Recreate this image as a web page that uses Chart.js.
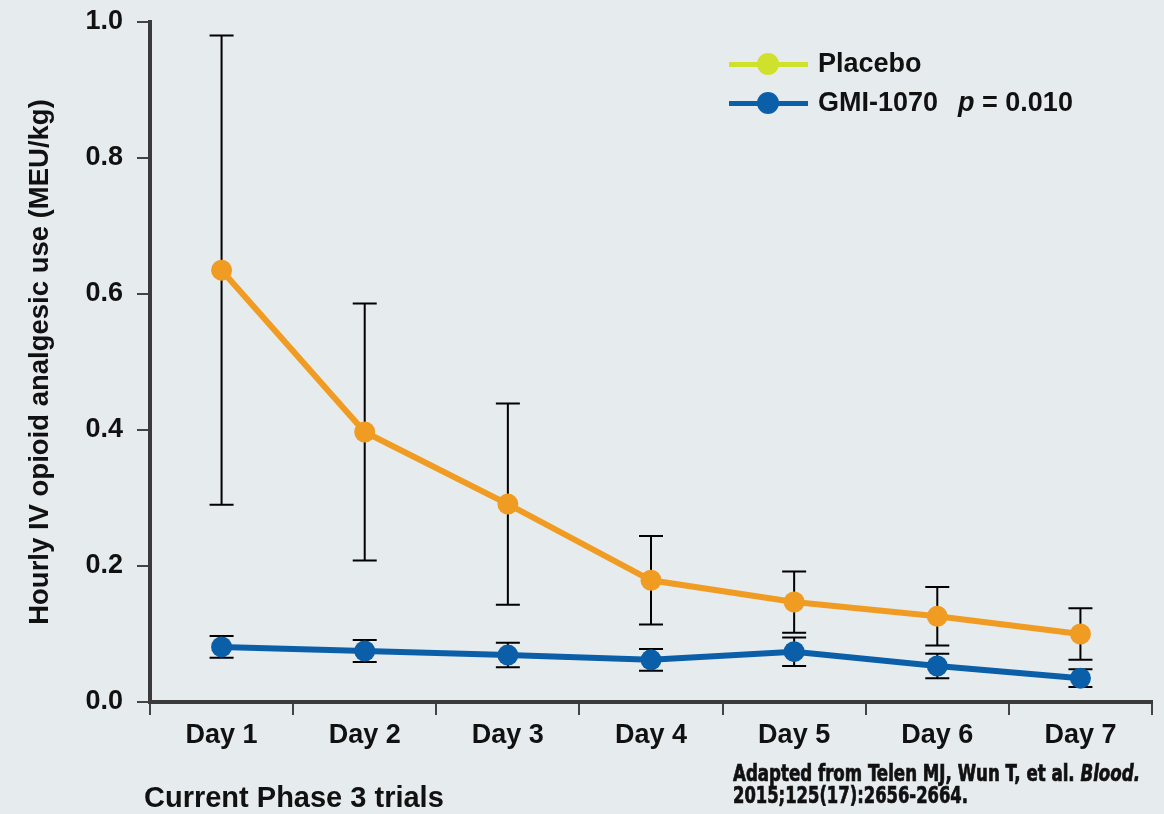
<!DOCTYPE html>
<html>
<head>
<meta charset="utf-8">
<script src="https://cdn.jsdelivr.net/npm/chart.js@4.4.1/dist/chart.umd.min.js"></script>
<style>
  html, body { margin: 0; padding: 0; background: #e6ebee; }
  #wrap { position: relative; width: 1164px; height: 814px; background: #e6ebee; overflow: hidden; }
  #chart { position: absolute; left: 0; top: 0; }
  .txt { position: absolute; font-family: "Liberation Sans", Arial, sans-serif; font-weight: bold; color: #111; white-space: nowrap; line-height: 1; }
  .legend-row { position: absolute; left: 729px; height: 30px; }
  .legend-line { position: absolute; left: 0; top: 13px; width: 79px; height: 5px; }
  .legend-dot { position: absolute; left: 28px; top: 4px; width: 22px; height: 22px; border-radius: 50%; }
  .legend-text { position: absolute; left: 89px; top: 1px; font-size: 27px; }
  .cite { font-family: "DejaVu Sans Condensed", "DejaVu Sans", sans-serif; font-weight: bold; font-size: 23px; transform-origin: 0 0; display: inline-block; -webkit-text-stroke: 0.7px #111; }
</style>
</head>
<body>
<div id="wrap">
  <canvas id="chart" width="1164" height="814"></canvas>

  <div class="legend-row" style="top:49px;">
    <div class="legend-line" style="background:#cfe02d;"></div>
    <div class="legend-dot" style="background:#cfe02d;"></div>
    <div class="txt legend-text">Placebo</div>
  </div>
  <div class="legend-row" style="top:88px;">
    <div class="legend-line" style="background:#0b5fa9;"></div>
    <div class="legend-dot" style="background:#0b5fa9;"></div>
    <div class="txt legend-text">GMI-1070<span style="display:inline-block;width:20px;"></span><i>p</i> = 0.010</div>
  </div>

  <div class="txt" style="left:144px; top:783px; font-size:29px;">Current Phase 3 trials</div>
  <div class="txt cite" data-w="407" style="left:733px; top:762px;">Adapted from Telen MJ, Wun T, et al. <i>Blood.</i></div>
  <div class="txt cite" data-w="235" style="left:733px; top:784px;">2015;125(17):2656-2664.</div>
</div>

<script>
// Days on the x axis
const days = ['Day 1', 'Day 2', 'Day 3', 'Day 4', 'Day 5', 'Day 6', 'Day 7'];

// Mean hourly IV opioid use (MEU/kg) and error half-widths
const placeboMean = [0.635, 0.397, 0.291, 0.179, 0.147, 0.126, 0.100];
const placeboErr  = [0.345, 0.189, 0.148, 0.065, 0.045, 0.043, 0.038];
const gmiMean     = [0.081, 0.075, 0.069, 0.062, 0.074, 0.053, 0.035];
const gmiErr      = [0.016, 0.016, 0.018, 0.016, 0.021, 0.018, 0.013];

// y-axis tick values
const yTicks = [0.0, 0.2, 0.4, 0.6, 0.8, 1.0];

const errors = [placeboErr, gmiErr];

// Squeeze the condensed citation lines to their set widths
document.querySelectorAll('.cite').forEach(el => {
  const w = el.getBoundingClientRect().width;
  el.style.transform = 'scaleX(' + (Number(el.dataset.w) / w) + ')';
});

// Draws vertical error bars with caps beneath the points
const errorBars = {
  id: 'errorBars',
  beforeDatasetsDraw(chart) {
    const ctx = chart.ctx;
    const y = chart.scales.y;
    ctx.save();
    ctx.strokeStyle = '#000';
    ctx.lineWidth = 2;
    chart.data.datasets.forEach((ds, i) => {
      const meta = chart.getDatasetMeta(i);
      meta.data.forEach((pt, j) => {
        const v = ds.data[j], e = errors[i][j];
        const yTop = y.getPixelForValue(v + e);
        const yBot = y.getPixelForValue(v - e);
        const x = pt.x, cap = 12;
        ctx.beginPath();
        ctx.moveTo(x, yTop); ctx.lineTo(x, yBot);
        ctx.moveTo(x - cap, yTop); ctx.lineTo(x + cap, yTop);
        ctx.moveTo(x - cap, yBot); ctx.lineTo(x + cap, yBot);
        ctx.stroke();
      });
    });
    ctx.restore();
  }
};

const axisFont = { family: '"Liberation Sans", Arial, sans-serif', weight: 'bold', size: 27 };

new Chart(document.getElementById('chart'), {
  type: 'line',
  data: {
    labels: days,
    datasets: [
      {
        label: 'Placebo',
        data: placeboMean,
        borderColor: '#f09c23',
        backgroundColor: '#f09c23',
        borderWidth: 6,
        pointRadius: 10.5,
        pointBorderWidth: 0,
        tension: 0
      },
      {
        label: 'GMI-1070',
        data: gmiMean,
        borderColor: '#0b5fa9',
        backgroundColor: '#0b5fa9',
        borderWidth: 6,
        pointRadius: 10.5,
        pointBorderWidth: 0,
        tension: 0
      }
    ]
  },
  options: {
    responsive: false,
    animation: false,
    layout: { padding: { top: 22, right: 12, bottom: 52, left: 0 } },
    plugins: {
      legend: { display: false },
      tooltip: { enabled: false }
    },
    scales: {
      x: {
        offset: true,
        grid: {
          offset: true,
          drawOnChartArea: false,
          drawTicks: true,
          tickLength: 13,
          color: '#444',
          lineWidth: 2
        },
        border: { display: true, color: '#3a3a3a', width: 4 },
        ticks: { color: '#111', font: axisFont, padding: 4, maxRotation: 0 },
        afterFit(s) { s.height = 60; s.paddingLeft = 0; s.paddingRight = 0; }
      },
      y: {
        min: 0,
        max: 1.0,
        afterBuildTicks(s) { s.ticks = yTicks.map(v => ({ value: v })); },
        grid: {
          drawOnChartArea: false,
          drawTicks: true,
          tickLength: 13,
          color: '#444',
          lineWidth: 2
        },
        border: { display: true, color: '#3a3a3a', width: 4 },
        ticks: {
          color: '#111',
          font: axisFont,
          padding: 14,
          callback: v => v.toFixed(1)
        },
        title: {
          display: true,
          text: 'Hourly IV opioid analgesic use (MEU/kg)',
          color: '#111',
          font: { family: '"Liberation Sans", Arial, sans-serif', weight: 'bold', size: 27.5 },
          padding: { top: 24, bottom: 0 }
        },
        afterFit(s) { s.width = 150; s.paddingTop = 0; s.paddingBottom = 0; }
      }
    }
  },
  plugins: [errorBars]
});
</script>
</body>
</html>
